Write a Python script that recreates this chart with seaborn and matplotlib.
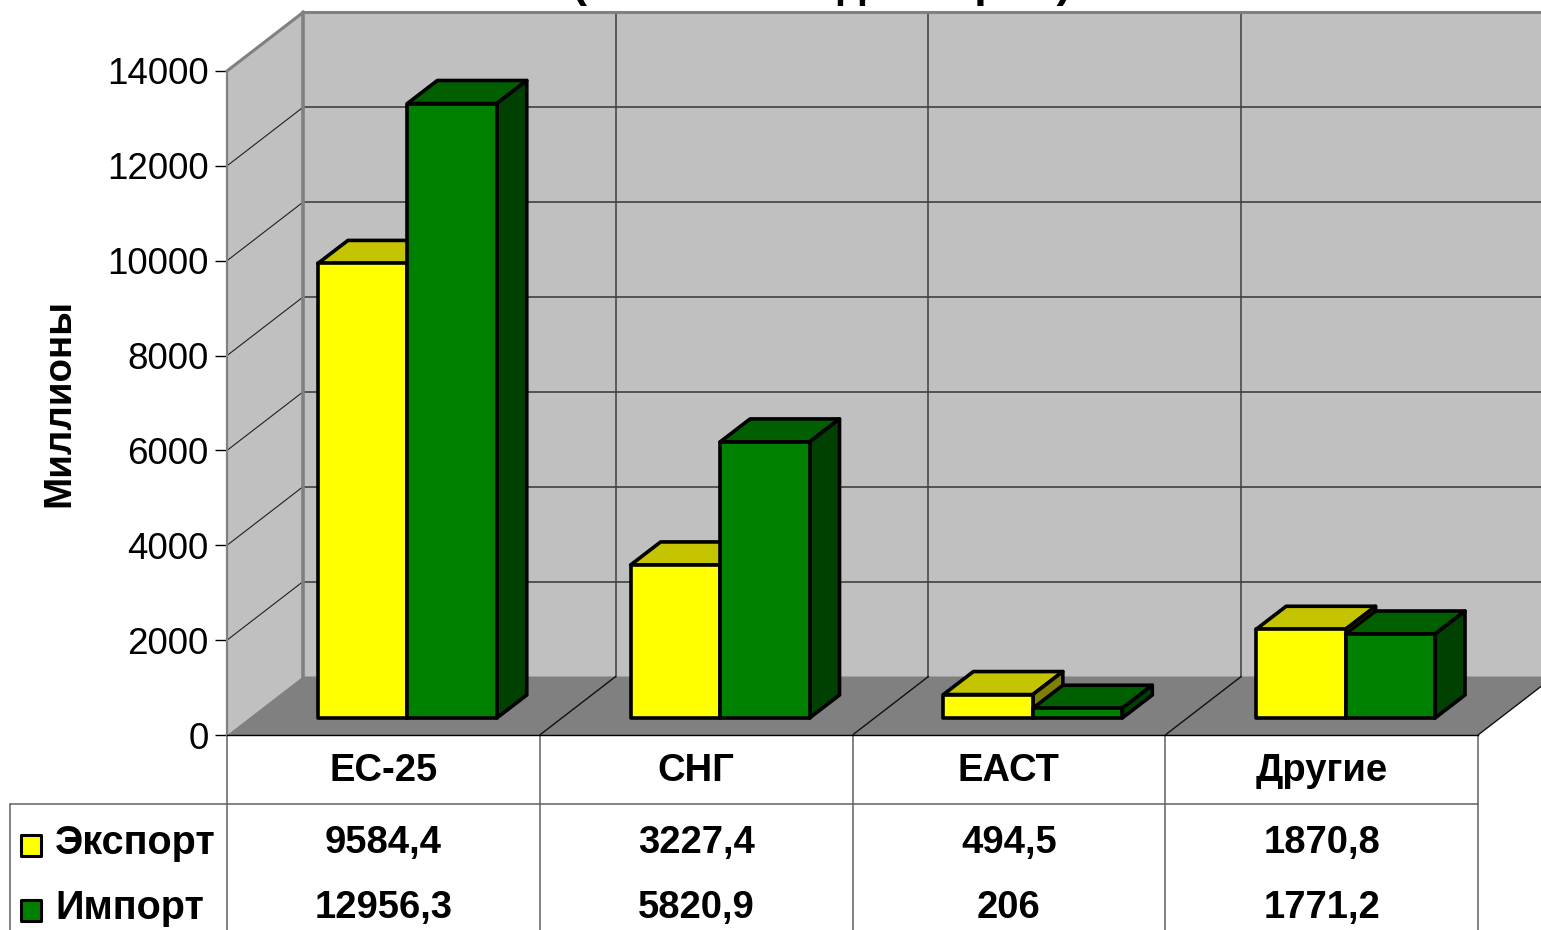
import pandas as pd
import seaborn as sns
import matplotlib.pyplot as plt
from matplotlib.patches import Polygon, Rectangle
from matplotlib.transforms import blended_transform_factory

regions = ['ЕС-25', 'СНГ', 'ЕАСТ', 'Другие']
export_vals = [9584.4, 3227.4, 494.5, 1870.8]
import_vals = [12956.3, 5820.9, 206, 1771.2]
series_names = ['Экспорт', 'Импорт']
y_ticks = [0, 2000, 4000, 6000, 8000, 10000, 12000, 14000]

W, H = 1541, 930
PX_X = 1 / 313.0        # categories per pixel
PX_Y = 14000 / 664.0    # data units per pixel

sns.set_style('white')
plt.rcParams['font.family'] = ['Liberation Sans', 'DejaVu Sans']
plt.rcParams['text.color'] = 'black'
plt.rcParams['axes.labelcolor'] = 'black'
plt.rcParams['xtick.color'] = 'black'
plt.rcParams['ytick.color'] = 'black'

df = pd.DataFrame({
    'Регион': regions * 2,
    'Серия': [series_names[0]] * 4 + [series_names[1]] * 4,
    'Значение': export_vals + import_vals,
})

fig = plt.figure(figsize=(W / 100, H / 100), dpi=100)
ax = fig.add_axes([227 / W, (H - 735) / H, (1478 - 227) / W, 664 / H])

# передняя грань столбцов
sns.barplot(data=df, x='Регион', y='Значение', hue='Серия', hue_order=series_names,
            palette=['#FFFF00', '#008000'], width=0.572, gap=0, saturation=1,
            edgecolor='black', linewidth=2.6, legend=False, ax=ax, zorder=3)

ax.set_xlim(-0.5, 3.5)
ax.set_ylim(0, 14000)
ax.patch.set_visible(False)
ax.set_xlabel('')
ax.set_ylabel('Миллионы', fontsize=27.7, fontweight='bold', labelpad=0)
ax.yaxis.set_label_coords((77 - 227) / (1478 - 227), (735 - 403) / 664)

ax.set_yticks(y_ticks)
ax.tick_params(axis='y', labelsize=26.5, length=8.6, width=1, color='black', pad=4.5, left=True)
ax.tick_params(axis='x', labelsize=27.5, length=0, pad=13)
for lab in ax.get_xticklabels():
    lab.set_fontweight('bold')

for side in ['top', 'right']:
    ax.spines[side].set_visible(False)
ax.spines['left'].set_color('#808080')
ax.spines['left'].set_linewidth(1.6)
ax.spines['bottom'].set_color('black')
ax.spines['bottom'].set_linewidth(1)

# стенки и пол
wall_dx = 76 * PX_X
wall_dy = 58.5 * PX_Y
x0, x1 = -0.5, 3.5
top = 14000
ax.add_patch(Polygon([(x0 + wall_dx, wall_dy), (x1 + wall_dx, wall_dy), (x1 + wall_dx, top + wall_dy), (x0 + wall_dx, top + wall_dy)],
                     fc='#C0C0C0', ec='none', zorder=0, clip_on=False))
ax.add_patch(Polygon([(x0, 0), (x0 + wall_dx, wall_dy), (x0 + wall_dx, top + wall_dy), (x0, top)],
                     fc='#C0C0C0', ec='none', zorder=0, clip_on=False))
ax.add_patch(Polygon([(x0, 0), (x1, 0), (x1 + wall_dx, wall_dy), (x0 + wall_dx, wall_dy)],
                     fc='#808080', ec='none', zorder=1, clip_on=False))

for t in y_ticks[1:]:
    ax.plot([x0, x0 + wall_dx], [t, t + wall_dy], color='#202020', lw=0.8, zorder=1.5, clip_on=False)
for t in y_ticks[1:-1]:
    ax.plot([x0 + wall_dx, x1 + wall_dx], [t + wall_dy, t + wall_dy], color='#404040', lw=1.2, zorder=1.5, clip_on=False)
for i in range(1, 4):
    xb = x0 + i
    ax.plot([xb + wall_dx, xb + wall_dx], [wall_dy, top + wall_dy], color='#404040', lw=1.1, zorder=1.5, clip_on=False)
for i in range(1, 5):
    xb = x0 + i
    ax.plot([xb, xb + wall_dx], [0, wall_dy], color='#101010', lw=1, zorder=1.5, clip_on=False)

ax.plot([x0, x0 + wall_dx, x1 + wall_dx], [top, top + wall_dy, top + wall_dy], color='#808080', lw=2.2, zorder=1.6, clip_on=False)
ax.plot([x0 + wall_dx, x0 + wall_dx], [wall_dy, top + wall_dy], color='#808080', lw=2.6, zorder=1.6, clip_on=False)

# объём столбцов: сдвигаем и дорисовываем верх и бок
bar_dx = 24 * PX_X
bar_dy = 17 * PX_Y
depth_x = 30 * PX_X
depth_y = 23 * PX_Y
n_bars = len(regions)
for k, p in enumerate(ax.patches[:2 * n_bars]):
    p.set_x(p.get_x() + bar_dx)
    p.set_y(p.get_y() + bar_dy)
    xa, xb = p.get_x(), p.get_x() + p.get_width()
    yt = p.get_y() + p.get_height()
    yb = p.get_y()
    imp = k >= n_bars
    z = 3.2 if imp else 2.5
    p.set_zorder(3.3 if imp else 2.6)
    p.set_joinstyle('round')
    ax.add_patch(Polygon([(xa, yt), (xb, yt), (xb + depth_x, yt + depth_y), (xa + depth_x, yt + depth_y)],
                         fc='#006000' if imp else '#C4C400', ec='black', lw=2.6, joinstyle='round', zorder=z, clip_on=False))
    ax.add_patch(Polygon([(xb, yb), (xb + depth_x, yb + depth_y), (xb + depth_x, yt + depth_y), (xb, yt)],
                         fc='#004000' if imp else '#808000', ec='black', lw=2.6, joinstyle='round', zorder=z, clip_on=False))

# таблица данных
tr = blended_transform_factory(ax.transData, fig.transFigure)
def fy(py):
    return (H - py) / H

table_color = '#606060'
for i in range(5):
    ax.plot([x0 + i, x0 + i], [fy(735), fy(H)], color=table_color, lw=1.1, transform=tr, clip_on=False)
left_x = x0 + (10 - 227) * PX_X
ax.plot([left_x, x1], [fy(804), fy(804)], color=table_color, lw=1.1, transform=tr, clip_on=False)
ax.plot([left_x, left_x], [fy(804), fy(H)], color=table_color, lw=1.1, transform=tr, clip_on=False)

row_y = [843, 908]
row_vals = [export_vals, import_vals]
key_colors = ['#FFFF00', '#008000']
for r in range(2):
    for i, v in enumerate(row_vals[r]):
        ax.text(i, fy(row_y[r]), f'{v:g}'.replace('.', ','), transform=tr, ha='center', va='center',
                fontsize=27.5, fontweight='bold', clip_on=False)
    ax.text(x0 + (55 - 227) * PX_X, fy(row_y[r]), series_names[r], transform=tr, ha='left', va='center',
            fontsize=28.5, fontweight='bold', clip_on=False)
    ax.add_patch(Rectangle((x0 + (21 - 227) * PX_X, fy(row_y[r] + 13)), 20 * PX_X, 21 / H, transform=tr,
                           fc=key_colors[r], ec='black', lw=2.2, joinstyle='round', clip_on=False))

# заголовок срезан верхним краем рисунка
fig.text(822 / W, 1 + 2.5 / H, '(миллионы долларов)', ha='center', va='baseline', fontsize=32.3, fontweight='bold')

fig.savefig('out.png', dpi=100)
